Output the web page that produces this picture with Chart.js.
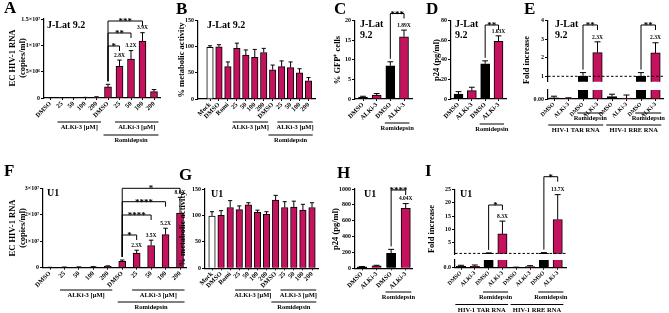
<!DOCTYPE html>
<html>
<head>
<meta charset="utf-8">
<script src="https://cdn.jsdelivr.net/npm/chart.js@4.4.1/dist/chart.umd.min.js"></script>
<style>
  body { margin: 0; background: #fff; }
  #wrap { position: relative; width: 669px; height: 313px; overflow: hidden; }
  canvas { position: absolute; left: 0; top: 0; }
</style>
</head>
<body>
<div id="wrap"></div>
<script>
// ---- data ----
const doseLabels = ['DMSO', '25', '50', '100', '200', 'DMSO', '25', '50', '100', '200'];
const viaLabels = ['Mock', 'DMSO', 'Romi', '25', '50', '100', '200', 'DMSO', '25', '50', '100', '200'];
const pairLabels = ['DMSO', 'ALKi-3', 'DMSO', 'ALKi-3'];
const rnaLabels = ['DMSO', 'ALKi-3', 'DMSO', 'ALKi-3', 'DMSO', 'ALKi-3', 'DMSO', 'ALKi-3'];

// A: J-Lat 9.2, EC HIV-1 RNA (copies/ml)
const aMean = [0.04e6, 0.05e6, 0.05e6, 0.08e6, 0.15e6, 2.1e6, 6.0e6, 7.4e6, 10.8e6, 1.2e6];
const aErr = [0.02e6, 0.02e6, 0.03e6, 0.04e6, 0.08e6, 0.5e6, 1.2e6, 1.6e6, 1.6e6, 0.4e6];
const aTicks = [0, 5e6, 1e7, 1.5e7];
const aTickLabels = ['0', '5×10⁶', '1×10⁷', '1.5×10⁷'];
const aFold = ['', '', '', '', '', '', '2.8X', '3.2X', '3.9X', ''];
const aStats = [[5, 6, '*'], [5, 7, '**'], [5, 8, '***']];

// B: J-Lat 9.2, % metabolic activity
const bMean = [99, 100, 62, 97, 84, 80, 89, 56, 62, 60, 50, 35];
const bErr = [3, 4, 9, 10, 10, 15, 8, 9, 11, 11, 8, 6];
const pctTicks = [0, 50, 100, 150];
const pctTickLabels = ['0', '50', '100', '150'];

// C: J-Lat 9.2, % GFP+ cells
const cMean = [0.5, 1.0, 8.5, 15.9];
const cErr = [0.2, 0.4, 1.0, 1.7];
const cTicks = [0, 5, 10, 15, 20];
const cTickLabels = ['0', '5', '10', '15', '20'];
const cFold = ['', '', '', '1.89X'];
const cStats = [[2, 3, '***']];

// D: J-Lat 9.2, p24 (pg/ml)
const dMean = [5, 8.5, 36, 59];
const dErr = [2.5, 3.5, 3, 5.5];
const dTicks = [0, 20, 40, 60, 80];
const dTickLabels = ['0', '20', '40', '60', '80'];
const dFold = ['', '', '', '1.63X'];
const dStats = [[2, 3, '**']];

// E: J-Lat 9.2, fold increase (broken axis)
const eMean = [0.0015, 0.0005, 1.0, 2.28, 0.003, 0.001, 1.0, 2.26];
const eErr = [0.002, 0.001, 0.2, 0.58, 0.003, 0.004, 0.2, 0.55];
const eHiTicks = [1, 2, 3, 4];
const eHiTickLabels = ['1', '2', '3', '4'];
const eLoTicks = [0, 0.01];
const eLoTickLabels = ['0.00', '0.01'];
const eFold = ['', '', '', '2.3X', '', '', '', '2.3X'];
const eStats = [[2, 3, '**'], [6, 7, '**']];

// F: U1, EC HIV-1 RNA (copies/ml)
const fMean = [0.1e6, 0.2e6, 0.2e6, 0.3e6, 0.5e6, 2.4e6, 5.5e6, 8.4e6, 12.5e6, 20.6e6];
const fErr = [0.05e6, 0.05e6, 0.1e6, 0.1e6, 0.2e6, 0.5e6, 1.1e6, 2.0e6, 2.4e6, 6.0e6];
const fTicks = [0, 1e7, 2e7, 3e7];
const fTickLabels = ['0', '1×10⁷', '2×10⁷', '3×10⁷'];
const fFold = ['', '', '', '', '', '', '2.3X', '3.5X', '5.2X', '8.6X'];
const fStats = [[5, 6, '*'], [5, 7, '****'], [5, 8, '****'], [5, 9, '*']];

// G: U1, % metabolic activity
const gMean = [99, 100, 115, 111, 120, 106, 102, 129, 115, 116, 110, 115];
const gErr = [8, 9, 13, 7, 4, 4, 5, 9, 11, 11, 11, 9];

// H: U1, p24 (pg/ml)
const hMean = [17, 30, 189, 756];
const hErr = [5, 8, 50, 60];
const hTicks = [0, 200, 400, 600, 800, 1000];
const hTickLabels = ['0', '200', '400', '600', '800', '1000'];
const hFold = ['', '', '', '4.04X'];
const hStats = [[2, 3, '****']];

// I: U1, fold increase (broken axis)
const iMean = [0.12, 0.1, 1.0, 8.3, 0.02, 0.09, 1.0, 13.7];
const iErr = [0.06, 0.1, 0.2, 4.8, 0.02, 0.06, 0.3, 9.3];
const iHiTicks = [5, 10, 15, 20, 25];
const iHiTickLabels = ['5', '10', '15', '20', '25'];
const iLoTicks = [0, 0.5];
const iLoTickLabels = ['0.0', '0.5'];
const iFold = ['', '', '', '8.3X', '', '', '', '13.7X'];
const iStats = [[2, 3, '*'], [6, 7, '*']];

// ---- style / layout ----
const W = 669, H = 313;
const PINK = '#c5125e';
const SERIF = '"Liberation Serif", serif';
const ALKI = 'ALKi-3 [µM]';
const ROMI = 'Romidepsin';

Chart.defaults.font.family = 'Liberation Serif';
Chart.defaults.font.weight = 'bold';
Chart.defaults.color = '#000';

const allPink = () => PINK;
const mockFirst = i => (i === 0 ? '#fff' : PINK);
const blackPink = i => (i % 2 === 0 ? '#000' : PINK);

const panels = [
  { id: 'A', labels: doseLabels, mean: aMean, err: aErr, fill: allPink, barW: 7,
    box: { axL: 44, axR: 160, c0: 50.5, cN: 154, top: 19, bot: 98 },
    y: { min: 0, max: 1.5e7, ticks: aTicks, labels: aTickLabels },
    fold: aFold, stats: aStats, statY: [46, 33, 21],
    title: { lines: ['J-Lat 9.2'], x: 47, y: 25 },
    yTitle: { lines: ['EC HIV-1 RNA', '(copies/ml)'], x: [12.5, 22.5], y: 58 },
    groups: [{ a: 1, b: 4, y: 122, text: ALKI }, { a: 6, b: 9, y: 122, text: ALKI }, { a: 5, b: 9, y: 135, text: ROMI }] },
  { id: 'B', labels: viaLabels, mean: bMean, err: bErr, fill: mockFirst, barW: 6.5,
    box: { axL: 198, axR: 315, c0: 210, cN: 308.5, top: 20.7, bot: 99 },
    y: { min: 0, max: 150, ticks: pctTicks, labels: pctTickLabels },
    title: { lines: ['J-Lat 9.2'], x: 207, y: 25 },
    yTitle: { lines: ['% metabolic activity'], x: [182], y: 60 },
    groups: [{ a: 3, b: 6, y: 122, text: ALKI }, { a: 8, b: 11, y: 122, text: ALKI }, { a: 7, b: 11, y: 135, text: ROMI }] },
  { id: 'C', labels: pairLabels, mean: cMean, err: cErr, fill: blackPink, barW: 9,
    box: { axL: 355, axR: 412, c0: 363, cN: 404, top: 20.7, bot: 99 },
    y: { min: 0, max: 20, ticks: cTicks, labels: cTickLabels },
    fold: cFold, stats: cStats, statY: [13.5],
    title: { lines: ['J-Lat', '9.2'], x: 360, y: 24 },
    yTitle: { lines: ['% GFP⁺ cells'], x: [338], y: 60 },
    groups: [{ a: 2, b: 3, y: 123, text: ROMI }] },
  { id: 'D', labels: pairLabels, mean: dMean, err: dErr, fill: blackPink, barW: 9,
    box: { axL: 451, axR: 506, c0: 458.5, cN: 498.5, top: 20.7, bot: 99 },
    y: { min: 0, max: 80, ticks: dTicks, labels: dTickLabels },
    fold: dFold, stats: dStats, statY: [25],
    title: { lines: ['J-Lat', '9.2'], x: 455, y: 24 },
    yTitle: { lines: ['p24 (pg/ml)'], x: [437], y: 60 },
    groups: [{ a: 2, b: 3, y: 124, text: ROMI }] },
  { id: 'E', labels: rnaLabels, mean: eMean, err: eErr, fill: blackPink, barW: 9.5,
    box: { axL: 548, axR: 663, c0: 554, cN: 655.5, top: 20.7, bot: 99 },
    split: { hi: { min: 0.709, max: 4, top: 20.7, bot: 81.7, ticks: eHiTicks, labels: eHiTickLabels },
             lo: { min: 0, max: 0.01125, top: 90, bot: 99, ticks: eLoTicks, labels: eLoTickLabels } },
    dashed: 1, fold: eFold, stats: eStats, statY: [25, 25],
    title: { lines: ['J-Lat', '9.2'], x: 555, y: 24 },
    yTitle: { lines: ['Fold increase'], x: [527], y: 60 },
    groups: [{ a: 2, b: 3, y: 113, text: ROMI }, { a: 6, b: 7, y: 113, text: ROMI },
             { a: 0, b: 3, y: 125, text: 'HIV-1 TAR RNA' }, { a: 4, b: 7, y: 125, text: 'HIV-1 RRE RNA' }] },
  { id: 'F', labels: doseLabels, mean: fMean, err: fErr, fill: allPink, barW: 7,
    box: { axL: 43, axR: 186, c0: 50, cN: 180, top: 188.3, bot: 267.7 },
    y: { min: 0, max: 3e7, ticks: fTicks, labels: fTickLabels },
    fold: fFold, stats: fStats, statY: [235, 215, 201.7, 188.3],
    title: { lines: ['U1'], x: 47, y: 193 },
    yTitle: { lines: ['EC HIV-1 RNA', '(copies/ml)'], x: [12.5, 22.5], y: 228 },
    groups: [{ a: 1, b: 4, y: 290, text: ALKI }, { a: 6, b: 9, y: 290, text: ALKI }, { a: 5, b: 9, y: 302, text: ROMI }] },
  { id: 'G', labels: viaLabels, mean: gMean, err: gErr, fill: mockFirst, barW: 6.5,
    box: { axL: 205, axR: 318, c0: 212, cN: 312, top: 189, bot: 268.3 },
    y: { min: 0, max: 150, ticks: pctTicks, labels: pctTickLabels },
    title: { lines: ['U1'], x: 211, y: 194 },
    yTitle: { lines: ['% metabolic activity'], x: [183], y: 229 },
    groups: [{ a: 3, b: 6, y: 290, text: ALKI }, { a: 8, b: 11, y: 290, text: ALKI }, { a: 7, b: 11, y: 302, text: ROMI }] },
  { id: 'H', labels: pairLabels, mean: hMean, err: hErr, fill: blackPink, barW: 9.3,
    box: { axL: 355, axR: 412, c0: 362, cN: 405.7, top: 189, bot: 268.3 },
    y: { min: 0, max: 1000, ticks: hTicks, labels: hTickLabels },
    fold: hFold, stats: hStats, statY: [190],
    title: { lines: ['U1'], x: 364, y: 194 },
    yTitle: { lines: ['p24 (pg/ml)'], x: [336], y: 229 },
    groups: [{ a: 2, b: 3, y: 292, text: ROMI }] },
  { id: 'I', labels: rnaLabels, mean: iMean, err: iErr, fill: blackPink, barW: 9.3,
    box: { axL: 455, axR: 566, c0: 461, cN: 557.7, top: 189.3, bot: 267.7 },
    split: { hi: { min: 0.78, max: 25, top: 189.3, bot: 254, ticks: iHiTicks, labels: iHiTickLabels },
             lo: { min: 0, max: 0.57, top: 260, bot: 267.7, ticks: iLoTicks, labels: iLoTickLabels } },
    dashed: 1, fold: iFold, stats: iStats, statY: [205, 176.7],
    title: { lines: ['U1'], x: 460, y: 194 },
    yTitle: { lines: ['Fold increase'], x: [432], y: 229 },
    groups: [{ a: 2, b: 3, y: 292, text: ROMI }, { a: 6, b: 7, y: 292, text: ROMI },
             { a: 0, b: 3, y: 304.5, text: 'HIV-1 TAR RNA' }, { a: 4, b: 7, y: 304.5, text: 'HIV-1 RRE RNA' }] }
];

const letters = [['A', 4, 13], ['B', 176, 14], ['C', 334, 14], ['D', 426, 14], ['E', 524, 14],
                 ['F', 4, 176], ['G', 179, 180], ['H', 337, 178], ['I', 425, 176]];

const wrap = document.getElementById('wrap');

function newCanvas() {
  const cv = document.createElement('canvas');
  cv.width = W; cv.height = H;
  wrap.appendChild(cv);
  return cv;
}

function txt(ctx, s, x, y, size, align, base) {
  ctx.font = `bold ${size}px ${SERIF}`;
  ctx.fillStyle = '#000';
  ctx.textAlign = align || 'center';
  ctx.textBaseline = base || 'middle';
  ctx.fillText(s, x, y);
}

// map category index -> pixel so that first/last centres land where they are in the figure
function xRange(b, n) {
  const w = b.axR - b.axL;
  const range = (n - 1) * w / (b.cN - b.c0);
  const min = -(b.c0 - b.axL) * range / w;
  return { min, max: min + range };
}

function annotate(p, part) {
  return {
    id: 'ann',
    afterDatasetsDraw(chart) {
      const { ctx, chartArea: ca } = chart;
      const xs = chart.scales.x, ys = chart.scales.y;
      ctx.save();
      if (part !== 'full') {
        ctx.beginPath();
        ctx.rect(ca.left, ca.top, ca.right - ca.left, ca.bottom - ca.top);
        ctx.clip();
      }
      ctx.strokeStyle = '#000';
      ctx.lineWidth = 1;
      const cap = p.barW * 0.32;
      p.mean.forEach((m, i) => {
        const px = xs.getPixelForValue(i);
        const y0 = ys.getPixelForValue(m);
        const y1 = ys.getPixelForValue(m + p.err[i]);
        ctx.beginPath();
        ctx.moveTo(px, y0); ctx.lineTo(px, y1);
        ctx.moveTo(px - cap, y1); ctx.lineTo(px + cap, y1);
        ctx.stroke();
      });
      if (p.dashed !== undefined && part === 'upper') {
        const yd = ys.getPixelForValue(p.dashed);
        ctx.setLineDash([2.5, 2]);
        ctx.beginPath(); ctx.moveTo(ca.left, yd); ctx.lineTo(ca.right, yd); ctx.stroke();
      }
      ctx.restore();
    },
    afterDraw(chart) {
      const { ctx } = chart;
      const xs = chart.scales.x, ys = chart.scales.y;
      ctx.save();
      ctx.strokeStyle = '#000';
      ctx.lineWidth = 1;
      if (part !== 'lower') {
        (p.stats || []).forEach(([a, b, s], k) => {
          const y = p.statY[k];
          const xa = xs.getPixelForValue(a), xb = xs.getPixelForValue(b);
          const ya = Math.max(y + 4, ys.getPixelForValue(p.mean[a] + p.err[a]) - 3);
          ctx.beginPath();
          ctx.moveTo(xa, ya); ctx.lineTo(xa, y); ctx.lineTo(xb, y); ctx.lineTo(xb, y + 5);
          ctx.stroke();
          txt(ctx, s, (xa + xb) / 2, y + 3, 9, 'center', 'alphabetic');
        });
        (p.fold || []).forEach((s, i) => {
          if (!s) return;
          const px = xs.getPixelForValue(i);
          const yt = ys.getPixelForValue(p.mean[i] + p.err[i]);
          txt(ctx, s, px, yt - 2, 5.5, 'center', 'bottom');
        });
        p.title.lines.forEach((s, k) => txt(ctx, s, p.title.x, p.title.y + k * 11, 10, 'left', 'middle'));
      }
      if (part !== 'upper') {
        p.groups.forEach(g => {
          const pad = p.barW / 2 + 1;
          const x0 = xs.getPixelForValue(g.a) - pad, x1 = xs.getPixelForValue(g.b) + pad;
          ctx.beginPath(); ctx.moveTo(x0, g.y); ctx.lineTo(x1, g.y); ctx.stroke();
          txt(ctx, g.text, (x0 + x1) / 2, g.y + 5.5, 6.5, 'center', 'middle');
        });
        p.yTitle.lines.forEach((s, k) => {
          ctx.save();
          ctx.translate(p.yTitle.x[k], p.yTitle.y);
          ctx.rotate(-Math.PI / 2);
          txt(ctx, s, 0, 0, 8.5, 'center', 'middle');
          ctx.restore();
        });
      }
      ctx.restore();
    }
  };
}

function makeChart(p, part) {
  const b = p.box;
  const xr = xRange(b, p.labels.length);
  const yc = part === 'upper' ? p.split.hi : part === 'lower' ? p.split.lo : Object.assign({ top: b.top, bot: b.bot }, p.y);
  const showX = part !== 'upper';
  const tickSize = p.labels.length === 8 ? 5.8 : 6.5;
  return new Chart(newCanvas(), {
    type: 'bar',
    data: {
      datasets: [{
        data: p.mean.map((v, i) => ({ x: i, y: v })),
        backgroundColor: p.labels.map((_, i) => p.fill(i)),
        borderColor: '#000',
        borderWidth: 1,
        barThickness: p.barW,
        clip: 0
      }]
    },
    options: {
      responsive: false,
      animation: false,
      events: [],
      devicePixelRatio: 1,
      layout: { padding: { left: 0, top: yc.top, right: W - b.axR, bottom: showX ? 0 : H - yc.bot } },
      plugins: { legend: { display: false }, tooltip: { enabled: false } },
      scales: {
        x: {
          type: 'linear', display: showX, min: xr.min, max: xr.max, offset: false,
          afterBuildTicks: s => { s.ticks = p.labels.map((_, i) => ({ value: i })); },
          afterFit: s => { if (showX) s.height = H - yc.bot; },
          ticks: { autoSkip: false, minRotation: 45, maxRotation: 45, padding: 0,
                   font: { size: tickSize }, callback: (v, i) => p.labels[i] },
          grid: { drawOnChartArea: false, offset: false, tickLength: 2, tickColor: '#000' },
          border: { color: '#000', width: 1.2 }
        },
        y: {
          type: 'linear', min: yc.min, max: yc.max,
          afterBuildTicks: s => { s.ticks = yc.ticks.map(v => ({ value: v })); },
          afterFit: s => { s.width = b.axL; },
          ticks: { padding: 1, font: { size: 6 }, callback: (v, i) => yc.labels[i] },
          grid: { drawOnChartArea: false, tickLength: 3, tickColor: '#000' },
          border: { color: '#000', width: 1.2 }
        }
      }
    },
    plugins: [annotate(p, part)]
  });
}

// panel letters
const base = newCanvas().getContext('2d');
letters.forEach(([s, x, y]) => txt(base, s, x, y, 17, 'left', 'alphabetic'));

panels.forEach(p => {
  if (p.split) {
    makeChart(p, 'upper');
    makeChart(p, 'lower');
  } else {
    makeChart(p, 'full');
  }
});
</script>
</body>
</html>
